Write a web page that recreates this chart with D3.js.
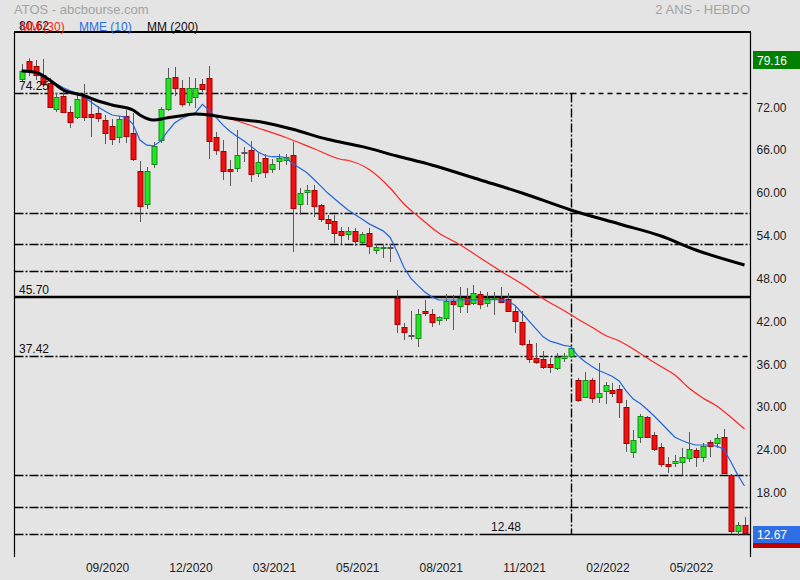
<!DOCTYPE html>
<html><head><meta charset="utf-8">
<script src="https://cdn.jsdelivr.net/npm/d3@7"></script>
<style>
html,body{margin:0;padding:0;background:#e4e4e4;}
svg{display:block;font-family:"Liberation Sans",Arial,sans-serif;}
</style></head><body>
<svg id="c" width="800" height="580"></svg>
<script>
// ---------- data (weekly candles, 2 years) ----------
const opens = [76.25,78.78,78.08,76.82,75.69,72.05,73.87,71.63,70.93,73.73,
71.35,71.49,70.51,69.67,68.13,71.07,68.69,63.36,58.74,64.34,
67.70,72.05,76.53,74.99,73.03,73.73,75.55,76.39,68.13,66.16,
63.64,63.78,66.02,66.30,63.08,65.18,63.64,64.76,64.90,65.60,
58.74,60.42,60.70,58.60,56.63,56.35,54.95,54.53,54.95,53.41,
54.67,52.29,52.57,52.71,45.56,41.50,40.38,39.96,43.74,43.32,
42.48,42.76,45.14,44.44,45.56,44.86,46.12,44.86,45.42,45.56,
45.42,43.74,42.20,39.11,37.15,37.01,36.31,35.75,37.15,37.43,
34.07,31.69,34.07,31.69,32.53,32.67,32.81,30.29,23.98,26.08,
28.88,26.36,24.68,22.30,22.44,22.58,23.14,24.26,23.28,25.38,
25.24,26.08,20.75,12.90,13.75];
const highs = [78.36,79.16,78.92,79.06,76.39,74.29,74.85,72.47,74.43,75.55,
73.73,72.47,71.21,70.65,71.07,71.91,71.49,64.76,63.92,67.42,
72.33,77.80,77.94,76.11,76.53,76.39,76.25,78.08,68.83,67.70,
64.90,69.11,66.72,67.56,65.88,65.74,65.04,65.74,65.74,67.42,
60.98,61.40,61.40,58.74,57.19,57.19,55.51,55.51,55.37,54.81,
55.37,53.13,53.13,53.13,46.68,42.06,43.74,44.02,45.28,44.02,
43.00,46.12,45.98,47.10,46.96,47.38,46.54,46.40,46.40,47.10,
46.26,44.30,43.74,39.68,39.26,38.13,37.15,37.85,37.85,38.69,
34.35,35.19,34.35,36.45,33.79,33.65,33.37,31.27,27.06,29.30,
29.02,26.78,25.24,23.28,23.56,24.54,26.78,24.54,25.24,25.66,
26.50,27.20,20.90,14.17,14.87];
const lows = [75.97,76.67,76.11,75.13,72.19,71.63,71.49,69.39,70.65,70.37,
68.13,70.23,67.14,67.00,67.28,67.28,64.76,56.21,58.03,63.78,
67.28,71.77,73.87,72.33,72.47,72.19,74.43,65.04,65.60,62.10,
61.26,63.22,64.62,61.82,62.52,62.38,63.08,63.50,64.20,52.01,
57.19,58.60,56.91,56.21,55.09,53.27,53.13,53.69,52.85,53.13,
51.73,51.73,51.17,50.61,40.66,39.68,39.68,38.69,43.04,41.50,
41.78,42.34,41.08,43.46,43.46,44.58,44.02,44.30,43.18,44.86,
43.60,40.66,38.83,36.45,36.31,35.61,35.05,35.47,36.59,37.29,
30.99,31.55,30.85,30.85,30.71,31.69,28.74,23.98,23.14,25.24,
25.94,24.12,21.88,21.04,21.88,20.75,22.58,21.88,22.58,23.28,
24.54,20.95,12.48,12.20,12.35];
const closes = [77.38,77.38,76.82,75.55,72.33,73.73,71.63,70.23,73.45,70.93,
70.93,70.79,68.69,67.85,70.65,68.27,65.04,58.46,63.36,66.86,
72.05,76.39,74.99,72.75,74.99,74.99,74.85,67.56,66.30,63.36,
63.36,65.60,66.00,62.94,64.62,63.22,64.34,65.18,65.32,58.17,
60.28,60.70,58.46,56.63,56.07,54.67,54.39,54.95,53.55,54.53,
52.85,52.71,52.71,52.69,41.92,40.80,40.36,43.32,43.46,42.20,
42.90,45.14,44.72,45.56,44.72,46.26,44.72,45.56,45.56,45.00,
43.74,42.34,39.11,37.01,36.59,35.89,35.89,37.29,37.43,38.55,
31.27,34.07,31.55,32.25,33.37,32.25,30.99,25.24,25.66,29.02,
26.08,24.40,22.30,22.02,22.72,23.28,24.40,23.28,24.82,24.82,
25.94,21.04,12.90,13.75,12.67];
// MME (10), one value per candle
const mme10 = [77.49,77.38,77.24,76.58,76.07,75.55,75.03,74.60,74.25,73.77,
73.00,72.32,71.74,71.21,71.07,70.92,69.95,67.69,66.98,66.88,
67.58,68.90,70.08,70.72,71.14,71.53,72.69,71.84,70.84,69.76,
68.90,68.20,67.55,66.81,66.02,65.53,65.36,65.36,65.25,64.37,
63.77,63.15,62.24,61.27,60.30,59.48,58.66,57.87,57.22,56.59,
55.95,55.46,54.97,54.08,52.09,49.84,48.31,47.33,46.40,45.72,
45.28,45.28,45.28,45.28,45.29,45.31,45.32,45.34,45.35,45.27,
45.10,44.50,43.42,42.33,41.24,40.15,39.51,39.23,38.93,38.76,
37.50,36.66,35.99,35.39,35.01,34.55,33.89,32.50,31.39,30.78,
29.94,29.02,28.04,27.02,26.04,25.59,25.20,24.96,24.96,24.96,
24.79,24.41,22.69,20.81,19.21];
// MM (30), read at candle indexes
const mm30Idx = [27,30,34,38,42,46,47,50,53,55,57,60,63,66,69,72,75,78,80,82,84,86,88,90,92,94,96,98,100,102,104];
const mm30Val = [71.07,70.65,69.39,68.06,66.51,64.97,64.83,63.57,60.98,58.74,57.05,54.67,53.06,51.17,49.28,47.52,45.49,43.81,42.62,41.50,40.31,39.54,38.41,37.15,35.96,34.77,32.95,31.55,30.43,28.88,27.20];
// MM (200), read at candle indexes
const mm200Idx = [0,2,4,6,9,11,13,16,17,19,21,23,25,27,30,35,39,44,49,54,59,66,72,79,86,92,97,104];
const mm200Val = [77.38,77.19,76.11,74.71,73.91,73.17,72.61,71.91,71.21,70.51,70.83,71.11,71.35,71.21,70.75,70.13,69.20,67.80,66.77,65.46,64.20,62.10,60.28,57.90,55.93,54.25,52.29,50.19];
// price levels drawn on chart
const levelValues = [74.25,57.43,53.13,49.35,45.70,37.42,20.71,16.27,12.48];
const levelLabels = ["74.25","","","","45.70","37.42","","","12.48"];
const markerIdx = 79; // vertical marker candle
const yTicks = [18,24,30,36,42,48,54,60,66,72];
const xTickIdx = [12,24,36,48,60,72,84,96];
const xTickLabels = ["09/2020","12/2020","03/2021","05/2021","08/2021","11/2021","02/2022","05/2022"];
const topLabel = "80.62";
const refLabel = "79.16";
const lastLabel = "12.67";

// ---------- drawing ----------
const svg = d3.select("#c");
const L = 14.5, R = 750.5, T = 32, B = 557;
const x = d3.scaleLinear().domain([0, opens.length - 1]).range([21.7, 744.5]);
const y = d3.scaleLinear().domain([9.26, 82.84]).range([B, T]);
const cy = v => Math.round(y(v)) + 0.5;
const cx = i => Math.round(x(i)) + 0.5;

svg.append("rect").attr("width", 800).attr("height", 580).attr("fill", "#e4e4e4");

// titles
svg.append("text").attr("x", 14).attr("y", 14).attr("font-size", 13).attr("fill", "#a3a3a3").text("ATOS - abcbourse.com");
svg.append("text").attr("x", 750).attr("y", 14).attr("text-anchor", "end").attr("font-size", 13).attr("fill", "#a3a3a3").text("2 ANS - HEBDO");

// frame
svg.append("line").attr("x1", L - 0.5).attr("x2", R + 0.5).attr("y1", T).attr("y2", T).attr("stroke", "#000").attr("stroke-width", 2);
svg.append("line").attr("x1", L).attr("x2", L).attr("y1", T).attr("y2", B).attr("stroke", "#000").attr("stroke-width", 1.2);

// y axis on right
const yAxis = d3.axisRight(y).tickValues(yTicks).tickSize(0).tickPadding(6).tickFormat(d3.format(".2f"));
const gy = svg.append("g").attr("transform", `translate(${R},0)`).call(yAxis);
gy.select(".domain").remove();
gy.selectAll("text").attr("y", -2).attr("font-size", 12).attr("fill", "#222").attr("font-family", "Liberation Sans, Arial, sans-serif");
svg.append("line").attr("x1", R).attr("x2", R).attr("y1", T).attr("y2", B).attr("stroke", "#000").attr("stroke-width", 1.2);

// x axis
const xAxis = d3.axisBottom(x).tickValues(xTickIdx).tickSize(0).tickPadding(6).tickFormat((d, i) => xTickLabels[i]);
const gx = svg.append("g").attr("transform", `translate(2,${B})`).call(xAxis);
gx.select(".domain").remove();
gx.selectAll("text").attr("font-size", 12).attr("fill", "#222").attr("font-family", "Liberation Sans, Arial, sans-serif");

// level lines
const DASHDOT = "9,2,2,2", DASH = "5,4";
const gl = svg.append("g");
const xm = cx(markerIdx);
levelValues.forEach((v, k) => {
  const yy = cy(v);
  const seg = (x1, x2, dash, w) => gl.append("line").attr("x1", x1).attr("x2", x2).attr("y1", yy).attr("y2", yy)
      .attr("stroke", "#000").attr("stroke-width", w || 1.4).attr("stroke-dasharray", dash || null);
  if (v === 45.70) { gl.append("line").attr("x1", L).attr("x2", R).attr("y1", Math.round(y(v))).attr("y2", Math.round(y(v))).attr("stroke", "#000").attr("stroke-width", 2.6); }
  else if (v === 74.25 || v === 37.42) { seg(L, xm, DASHDOT); seg(xm, R - 3, DASH); }
  else if (v === 49.35) { seg(L, xm, DASHDOT); }
  else if (v === 12.48) { seg(L, 485, DASHDOT); seg(485, R, null, 1.3); }
  else { seg(L, R, DASHDOT); }
});
gl.append("line").attr("x1", xm).attr("x2", xm).attr("y1", cy(74.25)).attr("y2", cy(12.48))
  .attr("stroke", "#000").attr("stroke-width", 1.4).attr("stroke-dasharray", DASHDOT);

// candles
const gc = svg.append("g");
opens.forEach((o, i) => {
  const c = closes[i], h = highs[i], l = lows[i];
  const xc = cx(i);
  gc.append("line").attr("x1", xc).attr("x2", xc).attr("y1", y(h)).attr("y2", y(l)).attr("stroke", "#5a5a5a").attr("stroke-width", 1);
  const top = Math.round(y(Math.max(o, c))), bot = Math.round(y(Math.min(o, c)));
  const doji = Math.abs(o - c) < 0.06;
  const up = c > o;
  gc.append("rect").attr("x", xc - 2.5).attr("y", top + 0.5).attr("width", 5).attr("height", Math.max(1, bot - top))
    .attr("fill", doji ? "#555" : (up ? "#22e622" : "#ee1111"))
    .attr("stroke", doji ? "#555" : (up ? "#188a18" : "#a30000")).attr("stroke-width", 1);
});

// moving averages
const lineGen = d3.line().x(d => x(d[0])).y(d => y(d[1])).curve(d3.curveMonotoneX);
svg.append("path").datum(mm30Idx.map((d, k) => [d, mm30Val[k]])).attr("d", lineGen)
  .attr("fill", "none").attr("stroke", "#ff2222").attr("stroke-width", 1.2);
svg.append("path").datum(mme10.map((v, i) => [i, v])).attr("d", d3.line().x(d => x(d[0])).y(d => y(d[1])))
  .attr("fill", "none").attr("stroke", "#2266dd").attr("stroke-width", 1.2);
svg.append("path").datum(mm200Idx.map((d, k) => [d, mm200Val[k]])).attr("d", lineGen)
  .attr("fill", "none").attr("stroke", "#000").attr("stroke-width", 3);

// level labels
levelValues.forEach((v, k) => {
  if (!levelLabels[k]) return;
  const isLow = v === 12.48;
  svg.append("text").attr("x", isLow ? 491 : 19).attr("y", y(v) - 3).attr("font-size", 12).attr("fill", "#111").text(levelLabels[k]);
});

// legend
const leg = svg.append("g").attr("font-size", 12);
leg.append("text").attr("x", 19).attr("y", 30).attr("fill", "#111").text(topLabel);
leg.append("text").attr("x", 20).attr("y", 31).attr("fill", "#ff1a1a").text("MM (30)");
leg.append("text").attr("x", 79).attr("y", 31).attr("fill", "#2a6ee0").text("MME (10)");
leg.append("text").attr("x", 147).attr("y", 31).attr("fill", "#111").text("MM (200)");

// right value boxes
const box = (fill, txt, h0, h1) => {
  svg.append("rect").attr("x", 753).attr("y", h0).attr("width", 47).attr("height", h1 - h0).attr("fill", fill);
  if (txt) svg.append("text").attr("x", 757).attr("y", h1 - 4).attr("font-size", 12).attr("fill", "#fff").text(txt);
};
box("#008000", refLabel, Math.round(y(79.16)) - 7, Math.round(y(79.16)) + 11);
box("#c00000", null, Math.round(y(12.48)) - 4, Math.round(y(12.48)) + 14);
box("#2f6fe6", lastLabel, Math.round(y(12.67)) - 7, Math.round(y(12.67)) + 10);
</script>
</body></html>
